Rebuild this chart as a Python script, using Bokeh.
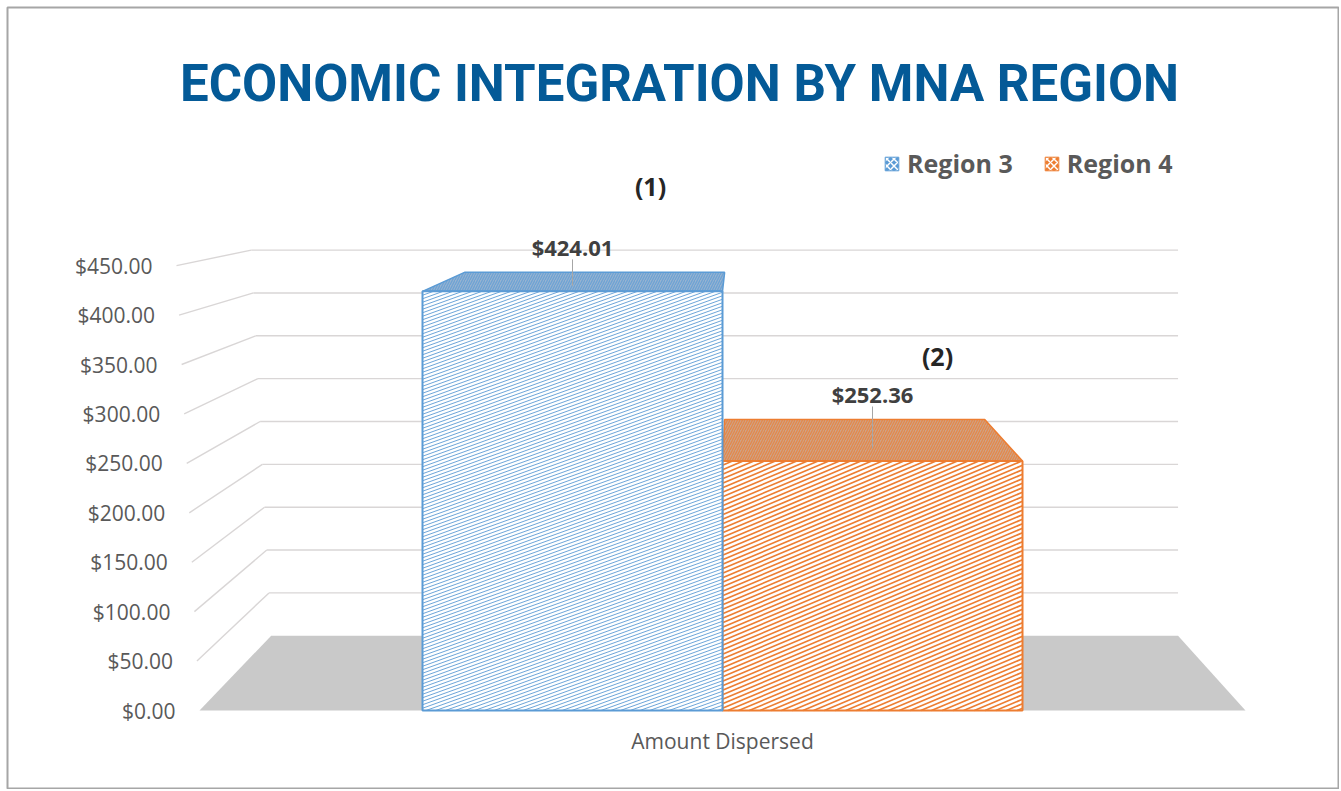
from bokeh.plotting import figure
from bokeh.models import Range1d, Label, Legend, LegendItem
from bokeh.core.properties import value
from bokeh.embed import file_html
from bokeh.resources import INLINE

# ---------------- data ----------------
title_text = "ECONOMIC INTEGRATION BY MNA REGION"
categories = ["Region 3", "Region 4"]
amounts = [424.01, 252.36]
amount_labels = ["$424.01", "$252.36"]
notes = ["(1)", "(2)"]
x_axis_label = "Amount Dispersed"
tick_values = [0, 50, 100, 150, 200, 250, 300, 350, 400, 450]
tick_labels = ["$0.00", "$50.00", "$100.00", "$150.00", "$200.00",
               "$250.00", "$300.00", "$350.00", "$400.00", "$450.00"]
colors = ["#5B9BD5", "#ED7D31"]
top_colors = ["#97B3D0", "#CDA287"]

# ---------------- layout / projection ----------------
W, H = 1339, 789
PX_U = 300.0          # pixels per category unit (front plane)
PX_V = 0.9885         # pixels per dollar (front plane)
OX, OY = 572.0, 710.0 # canvas position of (category 0 centre, $0)
FR_L, FR_R, FR_T, FR_B = 7, W - 1, 7, H - 1

def to_u(px):
    return (px - OX) / PX_U

def to_v(py):
    return (OY - py) / PX_V

U_VP, V_VP = to_u(738.0), to_v(148.0)   # vanishing point
DEPTH_S = 0.867                          # scale of the back plane
centre = (len(categories) - 1) / 2.0
FLOOR_HALF = 1.7433
FLOOR_L, FLOOR_R = centre - FLOOR_HALF, centre + FLOOR_HALF
WALL_SLANT = 23.0 / 450.0 / PX_U

def proj(u, v, d):
    s = 1.0 - (1.0 - DEPTH_S) * d
    return U_VP + s * (u - U_VP), V_VP + s * (v - V_VP)

def wall_u(v):
    return FLOOR_L - WALL_SLANT * v

def hatch(a, b, h, slope_px, spacing_px):
    k = slope_px * PX_U / PX_V
    dc = spacing_px / PX_V
    xs, ys = [], []
    c = -k * b + dc / 2.0
    while c < h - k * a:
        u0 = max(a, (0.0 - c) / k)
        u1 = min(b, (h - c) / k)
        if u1 > u0:
            xs.append([u0, u1])
            ys.append([c + k * u0, c + k * u1])
        c += dc
    return xs, ys

p = figure(width=W, height=H, output_backend="svg", toolbar_location=None,
           x_axis_type=None, y_axis_type=None,
           x_range=Range1d(to_u(FR_L), to_u(FR_R)),
           y_range=Range1d(to_v(FR_B), to_v(FR_T)),
           min_border_left=FR_L, min_border_top=FR_T,
           min_border_right=W - FR_R, min_border_bottom=H - FR_B)
p.grid.visible = False
p.outline_line_color = "#A6A6A6"
p.outline_line_width = 2
p.background_fill_color = "white"
p.border_fill_color = "white"

FONT = value("Open Sans")
GRID = "#D9D6D6"

# ---------------- walls: gridlines ----------------
side_x, side_y, back_x, back_y = [], [], [], []
for v in tick_values:
    if v == 0:
        continue
    fx = wall_u(v)
    bx, by = proj(fx, v, 1)
    side_x.append([fx, bx]); side_y.append([v, by])
    rx, ry = proj(FLOOR_R, v, 1)
    back_x.append([bx, rx]); back_y.append([by, ry])
p.multi_line(side_x, side_y, line_color=GRID, line_width=1.4)
p.multi_line(back_x, back_y, line_color=GRID, line_width=1.4)

# ---------------- floor ----------------
fl = [proj(FLOOR_L, 0, 0), proj(FLOOR_R, 0, 0), proj(FLOOR_R, 0, 1), proj(FLOOR_L, 0, 1)]
p.patch([q[0] for q in fl], [q[1] for q in fl], fill_color="#C9C9C9", line_color=None)

# ---------------- bars ----------------
hatch_style = [dict(slope=0.36, spacing=3.5, width=0.9),
               dict(slope=0.42, spacing=4.5, width=1.7)]
order = [1, 0]
for i in order:
    v = amounts[i]
    a, b = i - 0.5, i + 0.5
    # top face
    corners = [proj(a, v, 0), proj(b, v, 0), proj(b, v, 1), proj(a, v, 1)]
    p.patch([q[0] for q in corners], [q[1] for q in corners],
            fill_color=top_colors[i], line_color=colors[i], line_width=1.5,
            hatch_pattern="/", hatch_color=colors[i], hatch_scale=5,
            hatch_weight=1.3, hatch_alpha=0.7)
    # front face
    p.quad(left=[a], right=[b], bottom=[0], top=[v], fill_color="white",
           line_color=None)
    hs = hatch_style[i]
    hx, hy = hatch(a, b, v, hs["slope"], hs["spacing"])
    p.multi_line(hx, hy, line_color=colors[i], line_width=hs["width"])
    p.quad(left=[a], right=[b], bottom=[0], top=[v], fill_color=None,
           line_color=colors[i], line_width=2)

# ---------------- data labels ----------------
lab_x, lab_y, lead_x0, lead_y0, lead_y1 = [], [], [], [], []
for i, v in enumerate(amounts):
    _, back_top = proj(i, v, 1)
    ly = back_top + 25 / PX_V
    lab_x.append(i); lab_y.append(ly)
    lead_x0.append(i)
    lead_y0.append(ly - 12 / PX_V)
    lead_y1.append(proj(i, v, 0.3)[1])
p.segment(x0=lead_x0, y0=lead_y0, x1=lead_x0, y1=lead_y1, line_color="#A6A6A6", line_width=1)
p.text(x=lab_x, y=lab_y, text=amount_labels, text_font=FONT, text_font_style="bold",
       text_font_size="22px", text_color="#404040", text_align="center",
       text_baseline="middle")

note_dx = [78, 65]
note_dy = [61, 38]
p.text(x=[lab_x[i] + note_dx[i] / PX_U for i in range(len(notes))],
       y=[lab_y[i] + note_dy[i] / PX_V for i in range(len(notes))],
       text=notes, text_font=FONT, text_font_style="bold", text_font_size="25px",
       text_color="#262626", text_align="center", text_baseline="middle")

# ---------------- value axis labels ----------------
p.text(x=[wall_u(v) for v in tick_values], y=tick_values, text=tick_labels,
       x_offset=-24, text_font=FONT, text_font_size="21px", text_color="#595959",
       text_align="right", text_baseline="middle")

# ---------------- category axis label ----------------
p.text(x=[centre], y=[to_v(740)], text=[x_axis_label], text_font=FONT,
       text_font_size="21px", text_color="#595959", text_align="center",
       text_baseline="middle")

# ---------------- title ----------------
p.add_layout(Label(x=to_u(679), y=to_v(83), text=title_text, text_font="Roboto",
                   text_font_style="bold", text_font_size="51px", text_color="#045A97",
                   text_align="center", text_baseline="middle"))

# ---------------- legend ----------------
items = []
for i, name in enumerate(categories):
    r = p.quad(left=[to_u(-50)], right=[to_u(-40)], bottom=[0], top=[1],
               fill_color=colors[i], line_color=colors[i], hatch_pattern="x",
               hatch_color="white", hatch_scale=7, hatch_weight=1.5)
    items.append(LegendItem(label=name, renderers=[r]))
legend = Legend(items=items, orientation="horizontal", location=(876, 608),
                label_text_font="Open Sans", label_text_font_style="bold",
                label_text_font_size="25px", label_text_color="#595959",
                glyph_width=17, glyph_height=17, label_standoff=7, spacing=30,
                padding=0, margin=0, border_line_color=None,
                background_fill_alpha=0)
p.add_layout(legend)

open("out.html", "w").write(file_html(p, INLINE))
